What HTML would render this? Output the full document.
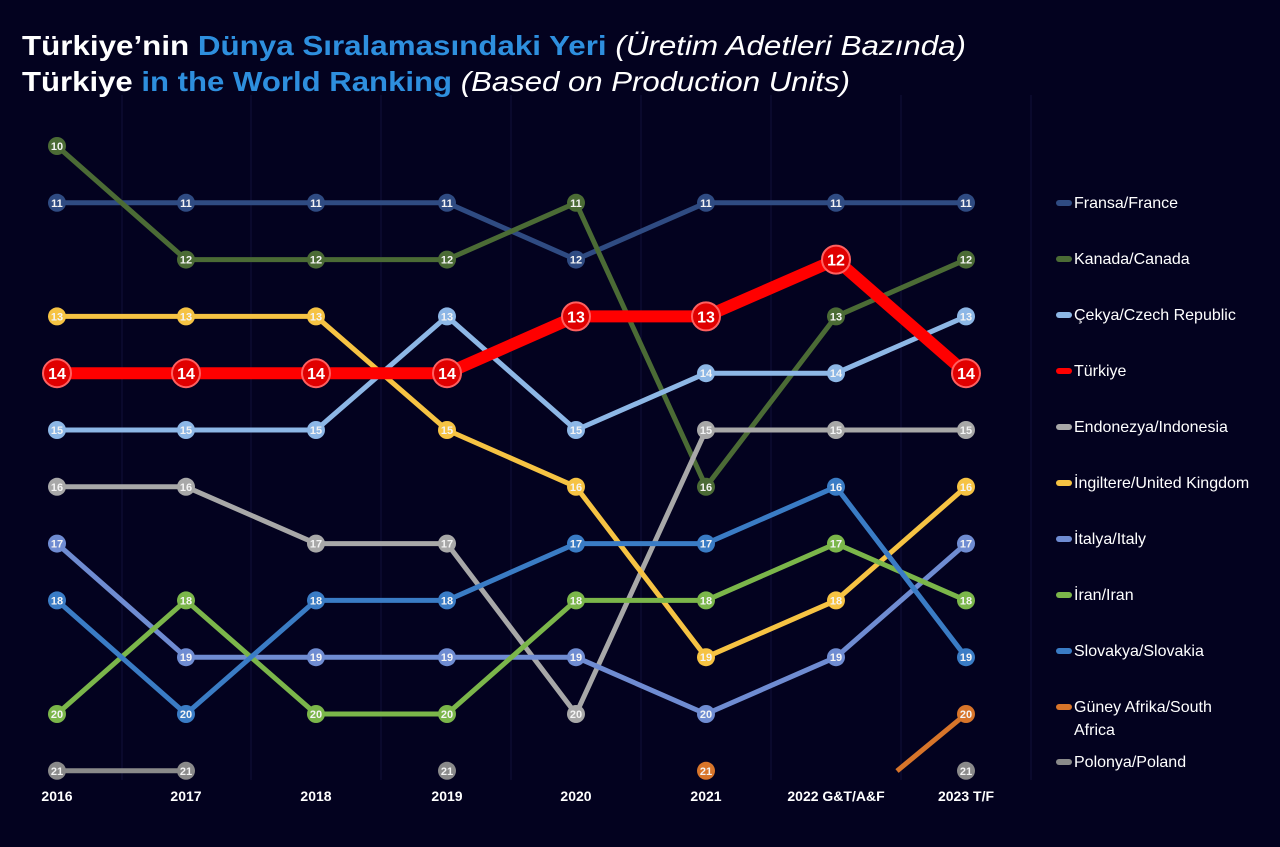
<!DOCTYPE html>
<html><head><meta charset="utf-8"><style>
html,body{margin:0;padding:0;background:#03021f;}
svg{display:block;}
text{font-family:"Liberation Sans",sans-serif;}
</style></head><body>
<svg width="1280" height="847" viewBox="0 0 1280 847" xmlns="http://www.w3.org/2000/svg">
<rect width="1280" height="847" fill="#03021f"/>
<g stroke="#10103a" stroke-width="1">
<line x1="122" y1="95" x2="122" y2="780"/><line x1="251" y1="95" x2="251" y2="780"/><line x1="381" y1="95" x2="381" y2="780"/><line x1="511" y1="95" x2="511" y2="780"/><line x1="641" y1="95" x2="641" y2="780"/><line x1="771" y1="95" x2="771" y2="780"/><line x1="901" y1="95" x2="901" y2="780"/><line x1="1031" y1="95" x2="1031" y2="780"/>
</g>
<text x="22" y="55" font-size="28" font-weight="bold" fill="#fff" textLength="944" lengthAdjust="spacingAndGlyphs">Türkiye’nin <tspan fill="#2e8fde">Dünya Sıralamasındaki Yeri</tspan> <tspan font-weight="normal" font-style="italic">(Üretim Adetleri Bazında)</tspan></text>
<text x="22" y="91" font-size="28" font-weight="bold" fill="#fff" textLength="828" lengthAdjust="spacingAndGlyphs">Türkiye <tspan fill="#2e8fde">in the World Ranking</tspan> <tspan font-weight="normal" font-style="italic">(Based on Production Units)</tspan></text>
<g id="chart"></g>
<g font-size="14" font-weight="bold" fill="#fff" text-anchor="middle">
<text x="57" y="801">2016</text><text x="186" y="801">2017</text><text x="316" y="801">2018</text><text x="447" y="801">2019</text><text x="576" y="801">2020</text><text x="706" y="801">2021</text><text x="836" y="801">2022 G&amp;T/A&amp;F</text><text x="966" y="801">2023 T/F</text>
</g>
<g font-size="16" fill="#fff" id="legend"></g>
</svg>
<script>
const X=[57,186,316,447,576,706,836,966];
const Y=r=>146+(r-10)*56.8;
const S=[
["Fransa/France","#2f4b82",[11,11,11,11,12,11,11,11]],
["Kanada/Canada","#4b6b35",[10,12,12,12,11,16,13,12]],
["Çekya/Czech Republic","#8db7e6",[15,15,15,13,15,14,14,13]],
["Türkiye","#ff0000",[14,14,14,14,13,13,12,14]],
["Endonezya/Indonesia","#a8a8a8",[16,16,17,17,20,15,15,15]],
["İngiltere/United Kingdom","#f6c343",[13,13,13,15,16,19,18,16]],
["İtalya/Italy","#6f8cd2",[17,19,19,19,19,20,19,17]],
["İran/Iran","#7bb64a",[20,18,20,20,18,18,17,18]],
["Slovakya/Slovakia","#3a7cc5",[18,20,18,18,17,17,16,19]],
["Güney Afrika/South Africa","#d8752a",[null,null,null,null,null,21,null,20]],
["Polonya/Poland","#8a8a8a",[21,21,null,21,null,null,null,21]]
];
const ns="http://www.w3.org/2000/svg";
const g=document.getElementById('chart');
function el(t,a,p){const e=document.createElementNS(ns,t);for(const k in a)e.setAttribute(k,a[k]);(p||g).appendChild(e);return e;}
const order=[0,1,4,5,6,7,8,9,10,2,3];
order.forEach(i=>{const [n,c,d]=S[i];const tr=i==3;
 for(let j=0;j<8;j++){ if(d[j]!=null && j<7 && d[j+1]!=null) el('line',{x1:X[j],y1:Y(d[j]),x2:X[j+1],y2:Y(d[j+1]),stroke:c,'stroke-width':tr?12:5,'stroke-linecap':'round'}); }
 if(i==9) el('line',{x1:897,y1:771,x2:966,y2:714,stroke:c,'stroke-width':5});
 for(let j=0;j<8;j++){ if(d[j]==null) continue;
  if(tr){el('circle',{cx:X[j],cy:Y(d[j]),r:14,fill:'#e00000',stroke:'#ff6060','stroke-width':2});
   const t=el('text',{x:X[j],y:Y(d[j])+6,'font-size':16,'font-weight':'bold',fill:'#fff','text-anchor':'middle'});t.textContent=d[j];}
  else{el('circle',{cx:X[j],cy:Y(d[j]),r:9,fill:c});
   const t=el('text',{x:X[j],y:Y(d[j])+4,'font-size':11,'font-weight':'bold',fill:'#f4f4f4','text-anchor':'middle'});t.textContent=d[j];}
 }
});
const L=document.getElementById('legend');
S.forEach((s,i)=>{const y=203+i*56;const ly=i==10?762:y;
 el('line',{x1:1059,y1:ly,x2:1069,y2:ly,stroke:s[1],'stroke-width':6,'stroke-linecap':'round'},L);
 if(i==9){let t=el('text',{x:1074,y:ly+5},L);t.textContent="Güney Afrika/South";t=el('text',{x:1074,y:ly+28},L);t.textContent="Africa";}
 else{const t=el('text',{x:1074,y:ly+5},L);t.textContent=s[0];}
});
</script>
</body></html>
